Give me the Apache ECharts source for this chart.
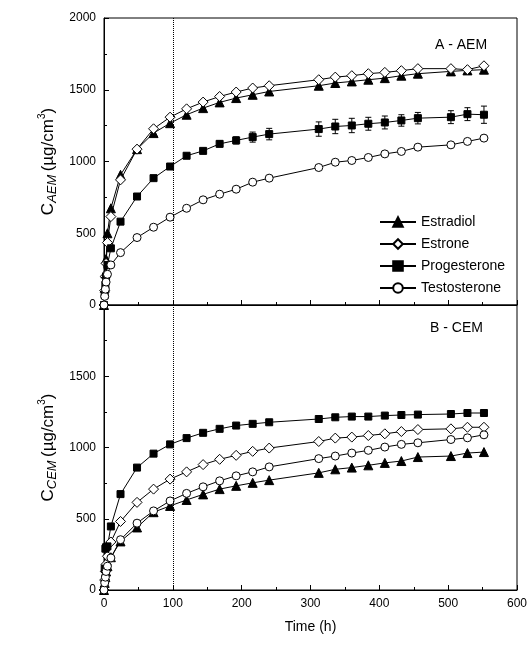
<!DOCTYPE html>
<html>
<head>
<meta charset="utf-8">
<script src="https://cdn.jsdelivr.net/npm/echarts@6/dist/echarts.min.js"></script>
<style>html,body{margin:0;padding:0;background:#fff}#chart{width:531px;height:646px}</style>
</head>
<body>
<div id="chart"></div>
<script>
var times = [0, 1, 2, 3, 5, 10, 24, 48, 72, 96, 120, 144, 168, 192, 216, 240, 312, 336, 360, 384, 408, 432, 456, 504, 528, 552];

// panel A - AEM
var estradiolA = [0, 120, 220, 320, 500, 674, 907, 1086, 1198, 1267, 1326, 1372, 1412, 1442, 1465, 1488, 1528, 1547, 1558, 1570, 1581, 1598, 1612, 1628, 1635, 1640];
var estroneA = [0, 100, 200, 290, 435, 616, 872, 1086, 1228, 1309, 1367, 1414, 1453, 1484, 1512, 1528, 1570, 1588, 1598, 1612, 1621, 1633, 1647, 1647, 1640, 1667];
var progesteroneA = [0, 70, 140, 200, 279, 395, 581, 756, 884, 965, 1040, 1074, 1123, 1147, 1170, 1191, 1226, 1244, 1251, 1263, 1272, 1286, 1302, 1309, 1330, 1326];
var progesteroneAErr = [0, 0, 0, 0, 0, 0, 0, 0, 0, 0, 10, 15, 20, 25, 35, 40, 50, 50, 50, 45, 45, 40, 40, 45, 45, 60];
var testosteroneA = [0, 60, 110, 160, 214, 279, 365, 470, 542, 612, 674, 733, 772, 807, 856, 884, 958, 995, 1007, 1028, 1053, 1070, 1100, 1116, 1140, 1163];

// panel B - CEM
var estradiolB = [0, 50, 90, 130, 167, 230, 341, 439, 546, 590, 632, 671, 708, 731, 752, 771, 822, 847, 859, 875, 892, 905, 933, 940, 961, 968];
var estroneB = [0, 70, 130, 180, 237, 337, 481, 615, 708, 778, 829, 880, 917, 945, 973, 996, 1042, 1066, 1073, 1084, 1096, 1112, 1126, 1131, 1142, 1142];
var progesteroneB = [0, 150, 290, 300, 306, 446, 673, 859, 957, 1022, 1066, 1103, 1131, 1154, 1166, 1177, 1200, 1212, 1217, 1217, 1224, 1228, 1231, 1235, 1242, 1242];
var testosteroneB = [0, 50, 90, 130, 167, 225, 353, 469, 555, 625, 678, 724, 766, 801, 829, 864, 922, 940, 961, 980, 1003, 1022, 1033, 1056, 1068, 1089];

function pairs(ys) { return times.map(function (t, i) { return [t, ys[i]]; }); }

var chart = echarts.init(document.getElementById('chart'));
var font = 'Liberation Sans, Arial, sans-serif';

var styles = {
    Estradiol: { symbol: 'triangle', fill: '#000', size: 9 },
    Estrone: { symbol: 'diamond', fill: '#fff', size: 10 },
    Progesterone: { symbol: 'rect', fill: '#000', size: 7 },
    Testosterone: { symbol: 'circle', fill: '#fff', size: 8 }
};

function lineSeries(name, data, idx, withMark) {
    var s = styles[name];
    var o = {
        name: name, type: 'line', xAxisIndex: idx, yAxisIndex: idx,
        data: pairs(data), symbol: s.symbol, symbolSize: s.size, showAllSymbol: true,
        lineStyle: { color: '#000', width: 1 },
        itemStyle: { color: s.fill, borderColor: '#000', borderWidth: 1 },
        z: 3, animation: false
    };
    if (withMark) {
        o.markLine = {
            silent: true, symbol: 'none', label: { show: false },
            lineStyle: { color: '#000', type: 'dotted', width: 1 },
            data: [{ xAxis: 100 }]
        };
    }
    return o;
}

var xBase = {
    type: 'value', min: 0, max: 600, interval: 100,
    axisLine: { lineStyle: { color: '#000' } },
    axisTick: { inside: true, length: 5, lineStyle: { color: '#000' } },
    minorTick: { show: true, splitNumber: 2, length: 3, lineStyle: { color: '#000' } },
    splitLine: { show: false },
    axisLabel: { color: '#000', fontFamily: font, fontSize: 12 }
};
function yAxis(idx, name, hideTop) {
    return {
        type: 'value', gridIndex: idx, min: 0, max: 2000, interval: 500,
        axisLine: { lineStyle: { color: '#000' } },
        axisTick: { inside: true, length: 5, lineStyle: { color: '#000' } },
        minorTick: { show: true, splitNumber: 2, length: 3, lineStyle: { color: '#000' } },
        splitLine: { show: false },
        axisLabel: { color: '#000', fontFamily: font, fontSize: 12,
            formatter: function (v) { return (hideTop && v === 2000) ? '' : v; } },
        name: '{c|C}{s|' + name + '} {c|(µg/cm}{p|3}{c|)}',
        nameLocation: 'middle', nameGap: 44, nameRotate: 90,
        nameTextStyle: {
            rich: {
                c: { fontSize: 17, fontFamily: font, color: '#000' },
                s: { fontSize: 13, fontFamily: font, color: '#000', fontStyle: 'italic', verticalAlign: 'bottom', padding: [8, 0, 0, 0] },
                p: { fontSize: 10, fontFamily: font, color: '#000', verticalAlign: 'top', padding: [0, 0, 8, 0] }
            }
        }
    };
}

var errData = times.map(function (t, i) { return [t, progesteroneA[i], progesteroneAErr[i]]; });

option = {
    animation: false,
    grid: [
        { left: 104, right: 14, top: 18, height: 287, show: true, borderColor: '#000', borderWidth: 1 },
        { left: 104, right: 14, top: 305, height: 285, show: true, borderColor: '#000', borderWidth: 1 }
    ],
    legend: {
        data: ['Estradiol', 'Estrone', 'Progesterone', 'Testosterone'],
        orient: 'vertical', left: 374, top: 210, itemGap: 8, itemWidth: 36, itemHeight: 12,
        textStyle: { color: '#000', fontFamily: font, fontSize: 14 }
    },
    xAxis: [
        Object.assign({}, xBase, { gridIndex: 0, axisLabel: { show: false } }),
        Object.assign({}, xBase, { gridIndex: 1, name: 'Time (h)', nameLocation: 'middle', nameGap: 30,
            nameTextStyle: { color: '#000', fontFamily: font, fontSize: 14 } })
    ],
    yAxis: [yAxis(0, 'AEM', false), yAxis(1, 'CEM', true)],
    graphic: [
        { type: 'text', left: 435, top: 38, style: { text: 'A - AEM', fill: '#000', font: '14px ' + font } },
        { type: 'text', left: 430, top: 321, style: { text: 'B - CEM', fill: '#000', font: '14px ' + font } }
    ],
    series: [
        lineSeries('Estradiol', estradiolA, 0, true),
        lineSeries('Estrone', estroneA, 0),
        lineSeries('Progesterone', progesteroneA, 0),
        lineSeries('Testosterone', testosteroneA, 0),
        {
            type: 'custom', xAxisIndex: 0, yAxisIndex: 0, data: errData, z: 2, silent: true,
            renderItem: function (params, api) {
                var x = api.value(0), y = api.value(1), e = api.value(2);
                if (!e) return;
                var hi = api.coord([x, y + e]), lo = api.coord([x, y - e]);
                var st = { stroke: '#000', lineWidth: 1 };
                return { type: 'group', children: [
                    { type: 'line', shape: { x1: hi[0], y1: hi[1], x2: lo[0], y2: lo[1] }, style: st },
                    { type: 'line', shape: { x1: hi[0] - 3, y1: hi[1], x2: hi[0] + 3, y2: hi[1] }, style: st },
                    { type: 'line', shape: { x1: lo[0] - 3, y1: lo[1], x2: lo[0] + 3, y2: lo[1] }, style: st }
                ] };
            }
        },
        lineSeries('Estradiol', estradiolB, 1, true),
        lineSeries('Estrone', estroneB, 1),
        lineSeries('Progesterone', progesteroneB, 1),
        lineSeries('Testosterone', testosteroneB, 1)
    ]
};

chart.setOption(option);
</script>
</body>
</html>
